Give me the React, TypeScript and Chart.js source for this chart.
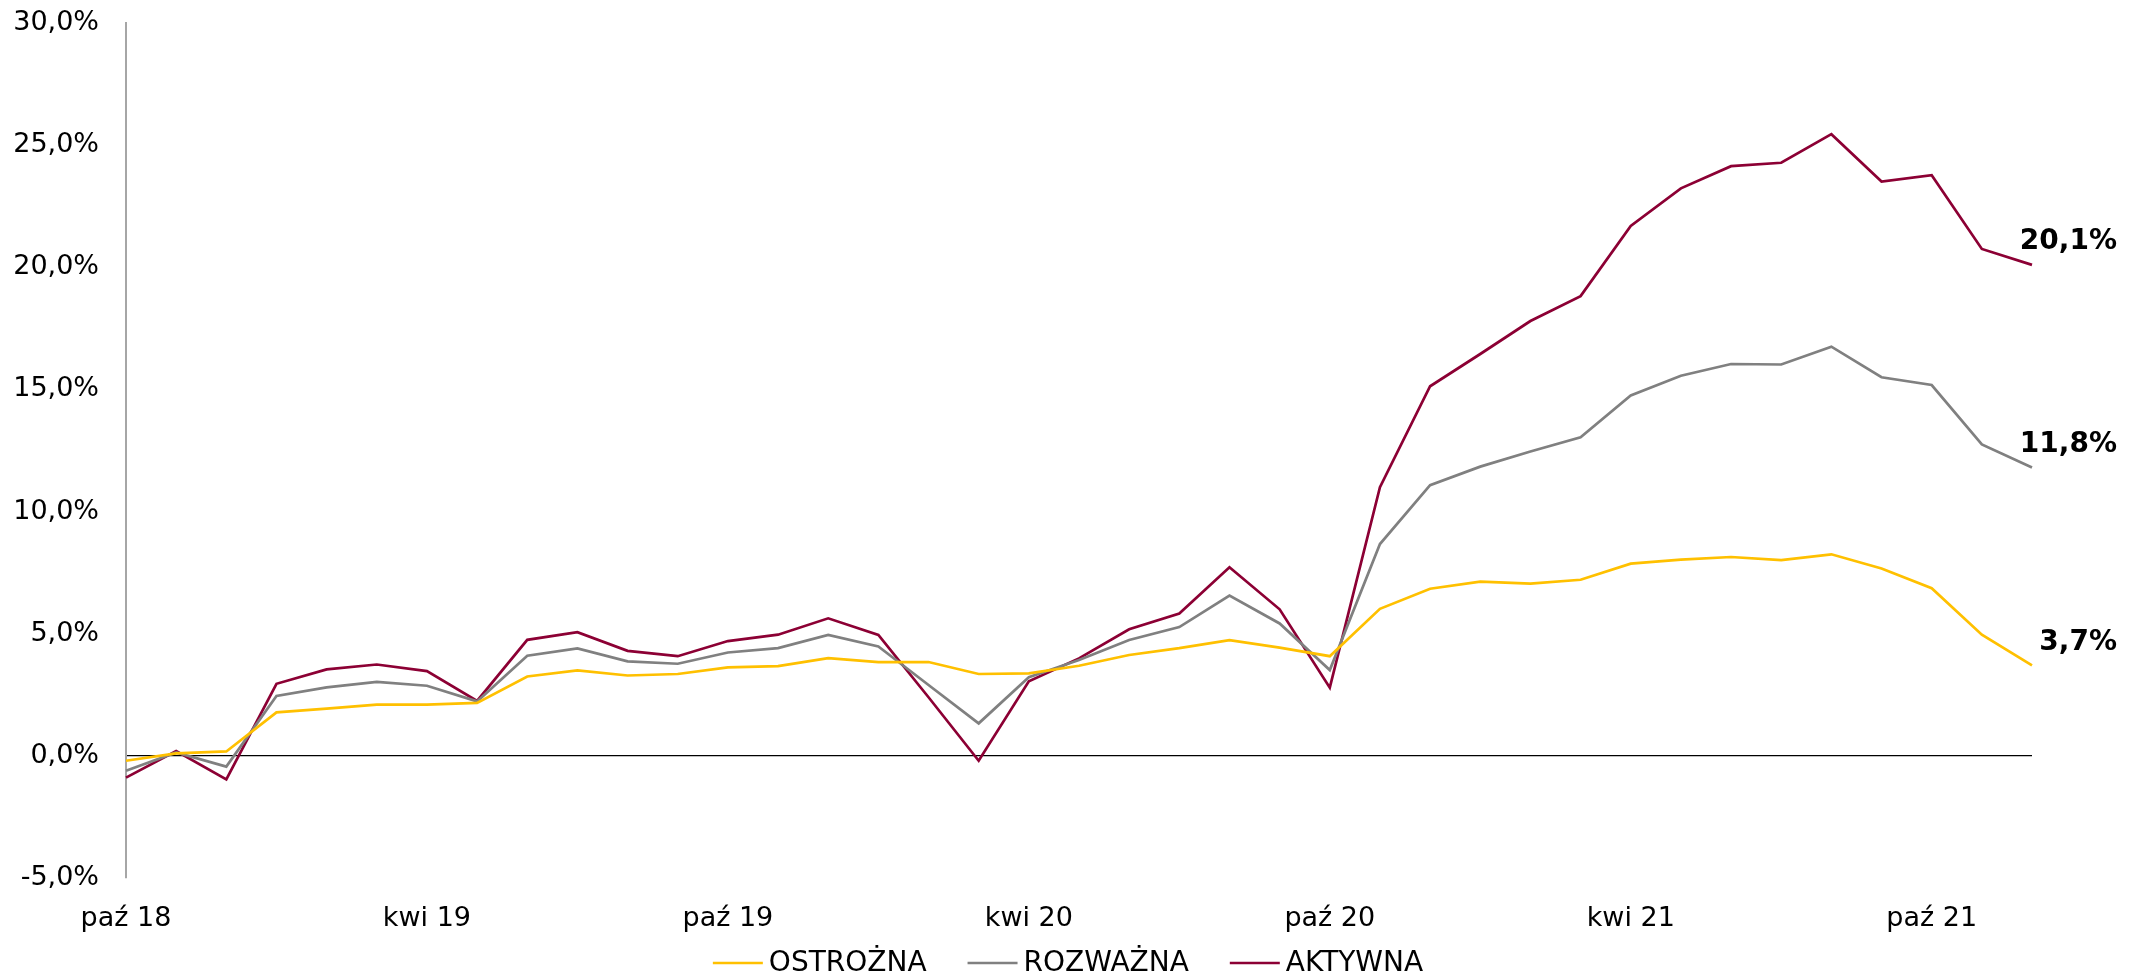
import React, { useEffect, useRef } from "react";
import { Chart, registerables } from "chart.js";

Chart.register(...registerables);

const MONTHS: string[] = [
  "paź 18", "lis 18", "gru 18",
  "sty 19", "lut 19", "mar 19", "kwi 19", "maj 19", "cze 19", "lip 19", "sie 19", "wrz 19", "paź 19", "lis 19", "gru 19",
  "sty 20", "lut 20", "mar 20", "kwi 20", "maj 20", "cze 20", "lip 20", "sie 20", "wrz 20", "paź 20", "lis 20", "gru 20",
  "sty 21", "lut 21", "mar 21", "kwi 21", "maj 21", "cze 21", "lip 21", "sie 21", "wrz 21", "paź 21", "lis 21", "gru 21",
];

const OSTROZNA: number[] = [
  -0.2, 0.1, 0.18, 1.78, 1.93, 2.1, 2.1, 2.17, 3.25, 3.5,
  3.29, 3.35, 3.62, 3.67, 4.0, 3.84, 3.84, 3.35, 3.38, 3.69,
  4.13, 4.41, 4.74, 4.43, 4.08, 6.02, 6.84, 7.13, 7.05, 7.21,
  7.87, 8.03, 8.14, 8.01, 8.25, 7.67, 6.86, 4.96, 3.7,
];

const ROZWAZNA: number[] = [
  -0.61, 0.14, -0.44, 2.45, 2.8, 3.03, 2.87, 2.23, 4.1, 4.4,
  3.87, 3.77, 4.23, 4.41, 4.95, 4.48, 2.9, 1.33, 3.22, 3.92,
  4.74, 5.27, 6.56, 5.42, 3.51, 8.67, 11.08, 11.84, 12.46, 13.04,
  14.75, 15.56, 16.04, 16.02, 16.75, 15.5, 15.18, 12.75, 11.8,
];

const AKTYWNA: number[] = [
  -0.89, 0.2, -0.96, 2.95, 3.54, 3.74, 3.47, 2.25, 4.75, 5.06,
  4.3, 4.08, 4.7, 4.96, 5.63, 4.95, 2.4, -0.2, 3.05, 3.99,
  5.18, 5.83, 7.72, 6.0, 2.79, 11.0, 15.13, 16.45, 17.8, 18.82,
  21.69, 23.23, 24.14, 24.28, 25.45, 23.51, 23.77, 20.75, 20.1,
];

const SERIES_NAMES: string[] = ["OSTROŻNA", "ROZWAŻNA", "AKTYWNA"];
const SERIES_COLORS: string[] = ["#FFC000", "#808080", "#8C0034"];

const Y_MIN = -5;
const Y_MAX = 30;
const Y_STEP = 5;
const LABEL_EVERY = 6;

const W = 2146;
const H = 977;
const FONT = '"DejaVu Sans", Verdana, sans-serif';

const fmt = (v: number) => v.toFixed(1).replace(".", ",") + "%";

const endLabels = {
  id: "endLabels",
  afterDatasetsDraw(chart: any) {
    const ctx = chart.ctx;
    ctx.save();
    ctx.font = "bold 28px " + FONT;
    ctx.fillStyle = "#000";
    ctx.textAlign = "right";
    ctx.textBaseline = "middle";
    chart.data.datasets.forEach((ds: any, i: number) => {
      const meta = chart.getDatasetMeta(i);
      const pt = meta.data[meta.data.length - 1];
      const v = ds.data[ds.data.length - 1];
      ctx.fillText(fmt(v), pt.x + 85, pt.y - 23);
    });
    ctx.restore();
  },
};

const lineLegend = {
  id: "lineLegend",
  afterDraw(chart: any) {
    const ctx = chart.ctx;
    const LINE = 50;
    const GAP = 6;
    const SPACE = 41;
    const y = 963;
    ctx.save();
    ctx.font = "28px " + FONT;
    const items = chart.data.datasets.map((ds: any) => ({
      text: ds.label as string,
      color: ds.borderColor as string,
      lw: ds.borderWidth as number,
      w: ctx.measureText(ds.label).width as number,
    }));
    const total =
      items.reduce((s: number, it: any) => s + LINE + GAP + it.w, 0) + SPACE * (items.length - 1);
    let x = chart.width / 2 - 5 - total / 2;
    ctx.textBaseline = "middle";
    ctx.textAlign = "left";
    items.forEach((it: any) => {
      ctx.strokeStyle = it.color;
      ctx.lineWidth = it.lw;
      ctx.beginPath();
      ctx.moveTo(x, y);
      ctx.lineTo(x + LINE, y);
      ctx.stroke();
      ctx.fillStyle = "#000";
      ctx.fillText(it.text, x + LINE + GAP, y + 1);
      x += LINE + GAP + it.w + SPACE;
    });
    ctx.restore();
  },
};

export default function App() {
  const ref = useRef<HTMLCanvasElement | null>(null);

  useEffect(() => {
    if (!ref.current) return;
    Chart.defaults.font.family = FONT;
    const values = [OSTROZNA, ROZWAZNA, AKTYWNA];
    const chart = new Chart(ref.current, {
      type: "line",
      data: {
        labels: MONTHS,
        datasets: values.map((d, i) => ({
          label: SERIES_NAMES[i],
          data: d,
          borderColor: SERIES_COLORS[i],
          backgroundColor: SERIES_COLORS[i],
          borderWidth: 2.7,
          pointRadius: 0,
          tension: 0,
          fill: false,
        })),
      },
      options: {
        animation: false,
        responsive: false,
        devicePixelRatio: 1,
        layout: { autoPadding: false, padding: { left: 0, right: 114, top: 23, bottom: 0 } },
        plugins: {
          tooltip: { enabled: false },
          legend: { display: false },
        },
        scales: {
          x: {
            type: "category",
            offset: false,
            grid: { display: false, drawTicks: false },
            border: { display: false },
            ticks: {
              autoSkip: false,
              maxRotation: 0,
              minRotation: 0,
              padding: 25,
              color: "#000",
              font: { size: 27 },
              callback: (_v: any, idx: number) => (idx % LABEL_EVERY === 0 ? MONTHS[idx] : null),
            },
            afterFit: (s: any) => {
              s.height = 99;
              s.paddingLeft = 0;
              s.paddingRight = 0;
            },
          },
          y: {
            min: Y_MIN,
            max: Y_MAX,
            ticks: {
              stepSize: Y_STEP,
              padding: 27,
              color: "#000",
              font: { size: 27 },
              callback: (v: any) => fmt(Number(v)),
            },
            grid: {
              drawTicks: false,
              lineWidth: 1.3,
              color: (c: any) => (c.tick && c.tick.value === 0 ? "#000" : "rgba(0,0,0,0)"),
            },
            border: { display: true, color: "#A6A6A6", width: 2 },
            afterFit: (s: any) => {
              s.width = 126;
              s.paddingTop = 0;
              s.paddingBottom = 0;
            },
          },
        },
      },
      plugins: [endLabels, lineLegend],
    } as any);
    return () => chart.destroy();
  }, []);

  return (
    <div
      style={{
        position: "fixed",
        left: 0,
        top: 0,
        width: W,
        height: H,
        overflow: "hidden",
        background: "#fff",
      }}
    >
      <canvas ref={ref} width={W} height={H} style={{ display: "block" }} />
    </div>
  );
}
